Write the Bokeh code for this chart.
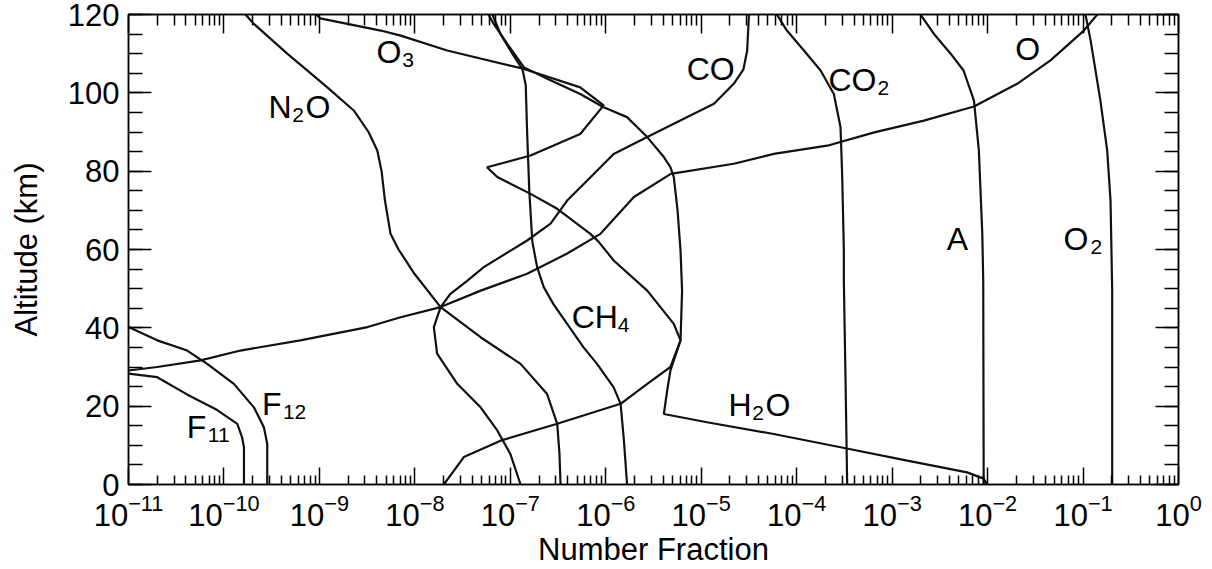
from bokeh.plotting import figure
from bokeh.models import LinearAxis, FixedTicker, Range1d, ColumnDataSource
from bokeh.core.properties import value
from bokeh.embed import file_html
from bokeh.resources import INLINE

# ---------------- data: altitude (km) and number fraction ----------------
f11_alt = [0, 9.5, 12, 15.5, 19, 23, 27.4, 28.3]
f11_val = [1.62e-10, 1.62e-10, 1.55e-10, 1.38e-10, 8.5e-11, 4.1e-11, 2.0e-11, 1.0e-11]

f12_alt = [0, 10.4, 14.6, 19.7, 25.7, 30.8, 34.2, 36.8, 40.2]
f12_val = [2.84e-10, 2.84e-10, 2.62e-10, 2.06e-10, 1.27e-10, 6.67e-11, 4.12e-11, 2.0e-11, 1.0e-11]

o_alt = [29.1, 30.0, 31.7, 34.2, 36.8, 40.2, 42.7, 45.3, 49.5, 53.8, 58.9, 64.0, 73.4, 79.3,
         81.9, 84.4, 86.5, 89.9, 92.9, 96.5, 102.3, 108.3, 115.9, 120]
o_val = [1.0e-11, 2.0e-11, 5.7e-11, 1.49e-10, 6.3e-10, 3.2e-9, 7.1e-9, 1.86e-8, 4.9e-8, 1.5e-7,
         3.9e-7, 8.8e-7, 1.97e-6, 4.8e-6, 2.19e-5, 5.75e-5, 2.09e-4, 6.5e-4, 2.15e-3, 7.2e-3,
         2.04e-2, 4.56e-2, 0.102, 0.141]

o3_alt = [0, 7.0, 11.2, 15.5, 20.6, 25.7, 30.0, 36.8, 41.0, 49.5, 57.2, 62.0, 64.0, 70.4, 74.2,
          78.5, 81.0, 84.0, 89.5, 96.8, 101.4, 106.1, 110.8, 114.6, 115.9, 119, 120]
o3_val = [2.01e-8, 3.26e-8, 7.9e-8, 3.10e-7, 1.43e-6, 2.72e-6, 4.76e-6, 6.07e-6, 5.16e-6, 2.72e-6,
          1.21e-6, 8.4e-7, 6.9e-7, 3.10e-7, 1.63e-7, 7.3e-8, 5.7e-8, 1.63e-7, 5.4e-7, 9.5e-7,
          5.4e-7, 1.39e-7, 2.18e-8, 7.1e-9, 4.4e-9, 1.02e-9, 9.3e-10]

ch4_alt = [0, 11.2, 20.6, 24.8, 30.8, 35, 41, 46, 50.4, 55.5, 62, 75, 90, 102, 106, 110, 115, 120]
ch4_val = [1.67e-6, 1.55e-6, 1.43e-6, 1.21e-6, 8.1e-7, 5.85e-7, 3.94e-7, 2.84e-7, 2.24e-7, 1.91e-7,
           1.70e-7, 1.58e-7, 1.50e-7, 1.45e-7, 1.34e-7, 1.05e-7, 7.9e-8, 6.5e-8]

h2o_alt = [0, 1.5, 3.1, 6.1, 9.5, 12.9, 15.9, 18.0, 24.0, 29.1, 36.8, 49.5, 59.7, 70, 78.5, 81,
           83.6, 88.7, 93.8, 96.3, 99.7, 103.6, 106.5, 112.5, 117.6, 120]
h2o_val = [9.9e-3, 9.1e-3, 6.1e-3, 1.44e-3, 2.88e-4, 5.75e-5, 1.15e-5, 4.06e-6, 4.4e-6, 4.76e-6,
           6.07e-6, 6.3e-6, 6.07e-6, 5.65e-6, 5.16e-6, 4.76e-6, 4.06e-6, 2.72e-6, 1.67e-6, 9.5e-7,
           5.4e-7, 2.44e-7, 1.39e-7, 9.3e-8, 6.7e-8, 5.9e-8]

n2o_alt = [0, 8, 15.5, 23.1, 30.8, 37.6, 45.3, 53.8, 60, 64, 72.5, 80, 85.3, 90, 95.5, 101.4,
           110, 117.6, 120]
n2o_val = [3.36e-7, 3.27e-7, 3.10e-7, 2.43e-7, 1.28e-7, 4.88e-8, 1.86e-8, 9.9e-9, 6.75e-9, 5.56e-9,
           4.86e-9, 4.48e-9, 4.04e-9, 3.27e-9, 2.29e-9, 1.21e-9, 4.6e-10, 2.06e-10, 1.68e-10]

co_alt = [0, 7.8, 13.8, 19.7, 25.7, 33.4, 40.2, 45.3, 48.7, 52, 55.5, 62.3, 66.6, 72.5, 77.6,
          84.4, 88.7, 92.1, 97.2, 102.3, 106, 110.8, 120]
co_val = [1.28e-7, 1.00e-7, 7.3e-8, 4.88e-8, 2.78e-8, 1.71e-8, 1.58e-8, 1.86e-8, 2.36e-8, 3.53e-8,
          5.27e-8, 1.50e-7, 2.64e-7, 3.94e-7, 6.4e-7, 1.21e-6, 2.72e-6, 5.16e-6, 1.36e-5, 2.19e-5,
          2.77e-5, 3.03e-5, 3.16e-5]

co2_alt = [0, 26.5, 52, 59.7, 78.5, 91.2, 99.7, 105.7, 110.8, 115.9, 120]
co2_val = [3.38e-4, 3.25e-4, 3.12e-4, 3.12e-4, 3.0e-4, 2.88e-4, 2.45e-4, 1.78e-4, 1.19e-4, 7.9e-5, 6.2e-5]

ar_alt = [0, 52, 64, 85.3, 98, 105.7, 110, 115.1, 120]
ar_val = [9.1e-3, 9.0e-3, 8.8e-3, 8.1e-3, 7.2e-3, 5.6e-3, 4.1e-3, 2.73e-3, 1.98e-3]

o2_alt = [0, 35, 49.5, 72.5, 85.3, 98, 113.4, 120]
o2_val = [0.202, 0.202, 0.202, 0.194, 0.179, 0.152, 0.120, 0.106]

x_ticks = [1e-11, 1e-10, 1e-9, 1e-8, 1e-7, 1e-6, 1e-5, 1e-4, 1e-3, 1e-2, 1e-1, 1e0]
y_ticks = [0, 20, 40, 60, 80, 100, 120]

# species labels: main text, subscript, trailing text
label_main = ["N", "O", "CO", "CO", "O", "A", "O", "CH", "H", "F", "F"]
label_sub = ["2", "3", "", "2", "", "", "2", "4", "2", "12", "11"]
label_tail = ["O", "", "", "", "", "", "", "", "O", "", ""]
# label anchor positions (data units) and piece offsets (px)
label_x = [3.08e-10, 4.16e-9, 7.4e-6, 2.26e-4, 2.05e-2, 3.93e-3, 6.56e-2, 4.62e-7, 2.03e-5, 2.62e-10, 4.29e-11]
label_y = [93.4, 107.4, 103.1, 100.2, 108.2, 59.7, 59.7, 39.7, 17.2, 17.6, 11.7]
sub_dx = [21.7, 23.7, 0, 47, 0, 0, 25, 44, 21.7, 19, 19]
tail_dx = [35, 0, 0, 0, 0, 0, 0, 0, 35, 0, 0]

FONT = "Liberation Sans"

p = figure(width=1212, height=569, x_axis_type="log",
           x_range=Range1d(1e-11, 1e0), y_range=Range1d(0, 120),
           output_backend="svg", toolbar_location=None,
           min_border_left=128, min_border_right=34, min_border_top=14, min_border_bottom=85)
p.grid.visible = False
p.outline_line_color = "black"
p.outline_line_width = 1.5
p.background_fill_color = "white"
p.border_fill_color = "white"

minor_x = [m * d for d in x_ticks[:-1] for m in range(2, 10)]
minor_y = list(range(0, 121, 5))

def style_axis(ax, major_in, minor_in, show_labels):
    ax.major_tick_in = major_in
    ax.major_tick_out = 0
    ax.minor_tick_in = minor_in
    ax.minor_tick_out = 0
    ax.axis_line_color = "black"
    ax.axis_line_width = 1.5
    ax.major_tick_line_color = "black"
    ax.major_tick_line_width = 1.5
    ax.minor_tick_line_color = "black"
    ax.minor_tick_line_width = 1.5
    if show_labels:
        ax.major_label_text_font = FONT
        ax.major_label_text_font_size = "31px"
        ax.major_label_text_color = "black"
        ax.axis_label_text_font = FONT
        ax.axis_label_text_font_size = "31px"
        ax.axis_label_text_font_style = "normal"
        ax.axis_label_text_color = "black"
    else:
        ax.major_label_text_font_size = "1px"
        ax.major_label_text_color = None
        ax.major_label_standoff = 0

xt = FixedTicker(ticks=x_ticks, minor_ticks=minor_x)
yt = FixedTicker(ticks=y_ticks, minor_ticks=minor_y)

bx = p.xaxis[0]
bx.ticker = xt
bx.axis_label = "Number Fraction"
style_axis(bx, 17, 9, True)
bx.major_label_standoff = 9
bx.axis_label_standoff = 3

ly = p.yaxis[0]
ly.ticker = yt
ly.axis_label = "Altitude (km)"
style_axis(ly, 23, 14, True)
ly.major_label_standoff = 9
ly.axis_label_standoff = 21

tx = LinearAxis(ticker=FixedTicker(ticks=x_ticks, minor_ticks=minor_x))
style_axis(tx, 19, 11, False)
p.add_layout(tx, "above")

ry = LinearAxis(ticker=FixedTicker(ticks=y_ticks, minor_ticks=minor_y))
style_axis(ry, 23, 14, False)
p.add_layout(ry, "right")

series = [(f11_val, f11_alt), (f12_val, f12_alt), (o_val, o_alt), (o3_val, o3_alt),
          (ch4_val, ch4_alt), (h2o_val, h2o_alt), (n2o_val, n2o_alt), (co_val, co_alt),
          (co2_val, co2_alt), (ar_val, ar_alt), (o2_val, o2_alt)]
for xs, ys in series:
    p.line(xs, ys, line_color="#111111", line_width=2.2)

main_src = ColumnDataSource(dict(x=label_x, y=label_y, t=label_main))
sub_src = ColumnDataSource(dict(x=label_x, y=label_y, t=label_sub, dx=sub_dx))
tail_src = ColumnDataSource(dict(x=label_x, y=label_y, t=label_tail, dx=tail_dx))

p.text(x="x", y="y", text="t", source=main_src, text_font=value(FONT), text_font_size="32px",
       text_color="black", text_align="left", text_baseline="alphabetic", x_offset=-2, y_offset=-12)
p.text(x="x", y="y", text="t", source=sub_src, text_font=value(FONT), text_font_size="21px",
       text_color="black", text_align="left", text_baseline="alphabetic", x_offset="dx", y_offset=-4)
p.text(x="x", y="y", text="t", source=tail_src, text_font=value(FONT), text_font_size="32px",
       text_color="black", text_align="left", text_baseline="alphabetic", x_offset="dx", y_offset=-12)

open("out.html", "w").write(file_html(p, INLINE))
